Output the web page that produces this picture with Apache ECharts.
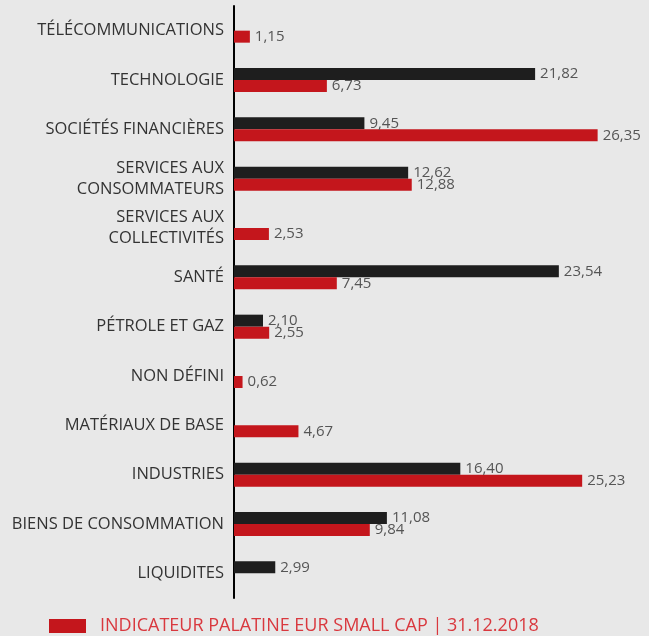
<!DOCTYPE html>
<html><head><meta charset="utf-8">
<script src="https://cdn.jsdelivr.net/npm/echarts@6/dist/echarts.min.js"></script>
<style>html,body{margin:0;padding:0;background:#e8e8e8;}#c{width:649px;height:636px;}</style>
</head><body><div id="c"></div>
<script>
var categories = ["TÉLÉCOMMUNICATIONS","TECHNOLOGIE","SOCIÉTÉS FINANCIÈRES","SERVICES AUX\nCONSOMMATEURS","SERVICES AUX\nCOLLECTIVITÉS","SANTÉ","PÉTROLE ET GAZ","NON DÉFINI","MATÉRIAUX DE BASE","INDUSTRIES","BIENS DE CONSOMMATION","LIQUIDITES"];
var fundValues = [null,21.82,9.45,12.62,null,23.54,2.10,null,null,16.40,11.08,2.99];
var indexValues = [1.15,6.73,26.35,12.88,2.53,7.45,2.55,0.62,4.67,25.23,9.84,null];
var fundName = "FONDS";
var indexName = "INDICATEUR PALATINE EUR SMALL CAP | 31.12.2018";

var fmt = function(p){ return p.value == null ? '' : Number(p.value).toFixed(2).replace('.', ','); };
var font = "'Open Sans', 'Noto Sans', sans-serif";
var chart = echarts.init(document.getElementById('c'));
chart.setOption({
  backgroundColor: '#e8e8e8',
  animation: false,
  textStyle: {fontFamily: font},
  grid: {left: 234, right: 1, top: 6, bottom: 38, containLabel: false},
  legend: {
    data: [indexName], left: 44, top: 612, itemWidth: 37, itemHeight: 14, icon: 'rect',
    textStyle: {color: '#d9383e', fontSize: 18, fontFamily: font, padding: [0,0,0,9]}
  },
  xAxis: {type: 'value', min: 0, max: 30, show: false},
  yAxis: {
    type: 'category', data: categories, inverse: true,
    axisLine: {show: true, lineStyle: {color: '#000', width: 2}},
    axisTick: {show: false},
    axisLabel: {color: '#333', fontSize: 16.5, margin: 10, lineHeight: 21, padding: [4,0,0,0], fontFamily: font}
  },
  series: [
    {name: fundName, type: 'bar', data: fundValues, barWidth: 12, barGap: '0%',
     itemStyle: {color: '#1e1e1e'},
     label: {show: true, position: 'right', distance: 5, color: '#555', fontSize: 15, formatter: fmt, fontFamily: font}},
    {name: indexName, type: 'bar', data: indexValues, barWidth: 12, barGap: '0%',
     itemStyle: {color: '#c4161c'},
     label: {show: true, position: 'right', distance: 5, color: '#555', fontSize: 15, formatter: fmt, fontFamily: font}}
  ]
});
</script></body></html>
